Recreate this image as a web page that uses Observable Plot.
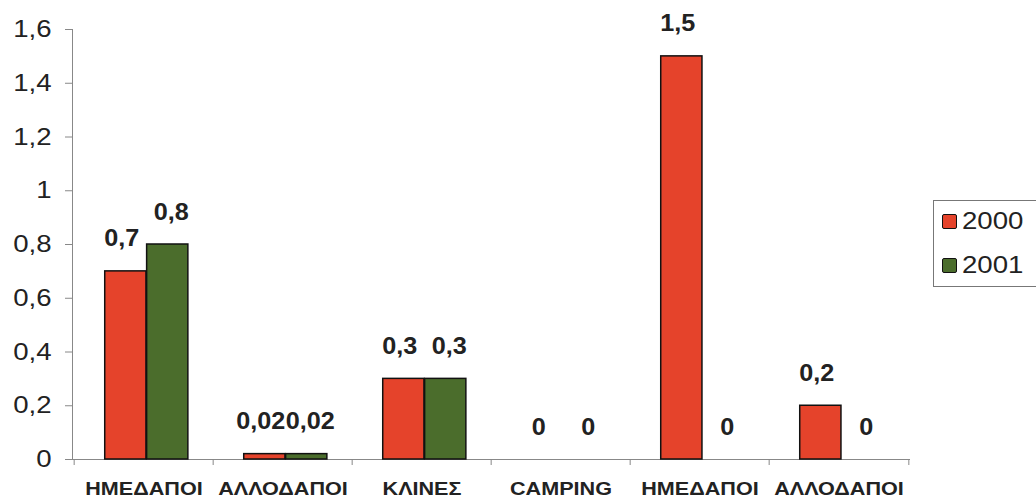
<!DOCTYPE html>
<html>
<head>
<meta charset="utf-8">
<script src="https://cdn.jsdelivr.net/npm/d3@7"></script>
<script src="https://cdn.jsdelivr.net/npm/@observablehq/plot@0.6"></script>
<style>
  html, body { margin: 0; padding: 0; background: #fff; overflow: hidden; }
  #wrap { position: relative; width: 1036px; height: 500px; }
  #legend { position: absolute; left: 933px; top: 200px; width: 120px; height: 85px;
    border: 1px solid #777; background: #fff; font-family: "Liberation Sans", Arial, sans-serif; font-size: 23px; color: #222; }
  .item { position: absolute; left: 8px; display: flex; align-items: center; }
  .sw { width: 13px; height: 13px; border: 1px solid #111; border-radius: 2px; margin-right: 5px; }
  .lt { display: inline-block; transform: scaleX(1.2); transform-origin: left center; }
  svg text { font-family: "Liberation Sans", Arial, sans-serif; }
</style>
</head>
<body>
<div id="wrap"></div>
<script>
const categories = ["ΗΜΕΔΑΠΟΙ", "ΑΛΛΟΔΑΠΟΙ", "ΚΛΙΝΕΣ", "CAMPING", "ΗΜΕΔΑΠΟΙ", "ΑΛΛΟΔΑΠΟΙ"];
const values2000 = [0.7, 0.02, 0.3, 0, 1.5, 0.2];
const values2001 = [0.8, 0.02, 0.3, 0, 0, 0];
const years = ["2000", "2001"];
const yTicks = [0, 0.2, 0.4, 0.6, 0.8, 1, 1.2, 1.4, 1.6];
const colors = ["#e5432b", "#4b6d2c"];

const W = 1036, H = 500, ML = 72, MR = 126, MT = 29, MB = 41;
const step = (W - ML - MR) / categories.length;
const idx = categories.map((c, i) => i);
const fmt = v => String(v).replace(".", ",");

const rows = (vals, year) => vals.map((v, i) => ({i, cat: categories[i], year, v}));
const r2000 = rows(values2000, years[0]);
const r2001 = rows(values2001, years[1]);

const chart = Plot.plot({
  width: W, height: H,
  marginLeft: ML, marginRight: MR, marginTop: MT, marginBottom: MB,
  x: {type: "band", domain: idx, padding: 0},
  y: {domain: [0, 1.6]},
  style: {fontFamily: "Liberation Sans, Arial, sans-serif", background: "#fff"},
  marks: [
    Plot.frame({anchor: "left", stroke: "#888"}),
    Plot.axisY({ticks: yTicks, tickFormat: fmt, tickSize: 7, tickPadding: 14, stroke: "#888",
      fontSize: 24, fill: "#222", label: null}),
    Plot.axisX({tickSize: 0, tickPadding: 23, tickFormat: i => categories[i], fontSize: 18,
      fontWeight: "bold", fill: "#222", label: null}),
    Plot.ruleY([0], {stroke: "#888"}),
    Plot.ruleX(idx, {x: d => d, y1: 0, y2: 0, dx: -step / 2, insetBottom: -6, stroke: "#888"}),
    Plot.ruleX([idx[idx.length - 1]], {x: d => d, y1: 0, y2: 0, dx: step / 2, insetBottom: -6, stroke: "#888"}),
    Plot.barY(r2000.filter(d => d.v > 0), {x: "i", y: "v", fill: colors[0], stroke: "#111", strokeWidth: 1.5,
      insetLeft: step * 0.22, insetRight: step * 0.48}),
    Plot.barY(r2001.filter(d => d.v > 0), {x: "i", y: "v", fill: colors[1], stroke: "#111", strokeWidth: 1.5,
      insetLeft: step * 0.52, insetRight: step * 0.18}),
    Plot.text(r2000, {x: "i", y: "v", text: d => fmt(d.v), dx: -step * 0.16, dy: -25, lineAnchor: "bottom",
      fontSize: 24, fontWeight: "bold", fill: "#222"}),
    Plot.text(r2001, {x: "i", y: "v", text: d => fmt(d.v), dx: step * 0.195, dy: -25, lineAnchor: "bottom",
      fontSize: 24, fontWeight: "bold", fill: "#222"})
  ]
});
document.getElementById("wrap").appendChild(chart);

// horizontally widen texts (the reference glyphs are wider than Liberation Sans)
const widen = (sel, s) => chart.querySelectorAll(sel).forEach(t => {
  const tr = t.getAttribute("transform");
  if (tr) t.setAttribute("transform", tr + ` scale(${s},1)`);
});
widen('g[aria-label="y-axis tick label"] text', 1.15);
widen('g[aria-label="x-axis tick label"] text', 1.2);
widen('g[aria-label="text"] text', 1.05);

const legend = document.createElement("div");
legend.id = "legend";
years.forEach((y, k) => {
  const it = document.createElement("div");
  it.className = "item";
  it.style.top = (k === 0 ? 7 : 51) + "px";
  const sw = document.createElement("div");
  sw.className = "sw";
  sw.style.background = colors[k];
  const t = document.createElement("span");
  t.className = "lt";
  t.textContent = y;
  it.appendChild(sw); it.appendChild(t);
  legend.appendChild(it);
});
document.getElementById("wrap").appendChild(legend);
</script>
</body>
</html>
